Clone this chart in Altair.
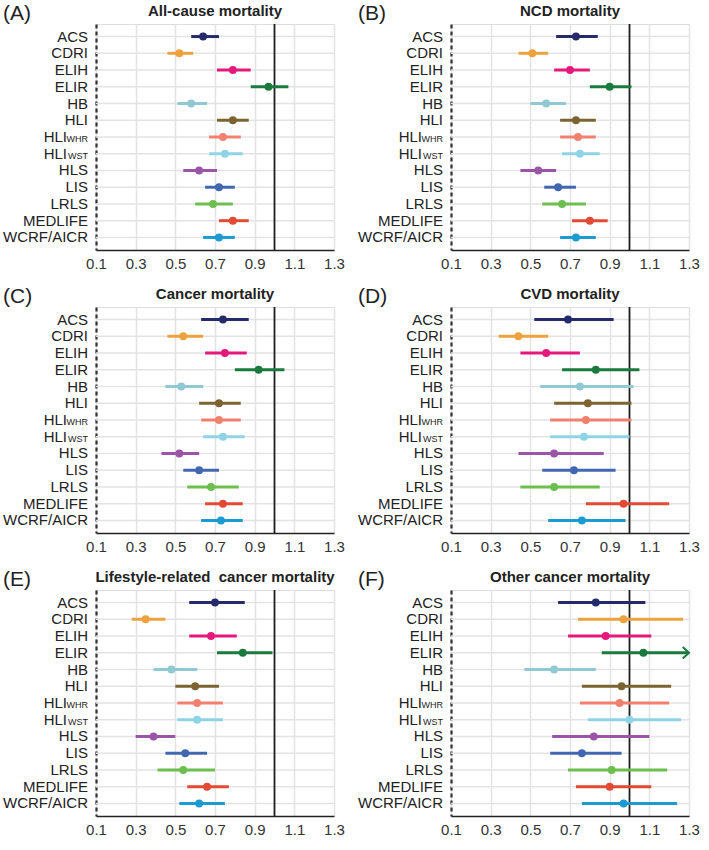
import altair as alt
import pandas as pd

FONT = "Liberation Sans"

names = ["ACS", "CDRI", "ELIH", "ELIR", "HB", "HLI", "HLIWHR", "HLIWST",
         "HLS", "LIS", "LRLS", "MEDLIFE", "WCRF/AICR"]
main_labels = ["ACS", "CDRI", "ELIH", "ELIR", "HB", "HLI", "HLI", "HLI",
               "HLS", "LIS", "LRLS", "MEDLIFE", "WCRF/AICR"]
sub_labels = ["", "", "", "", "", "", "WHR", "WST", "", "", "", "", ""]
colors = ["#252a6b", "#eea23e", "#e5197c", "#1a7a3e", "#90c8d4", "#7b6432",
          "#f2806f", "#8fd4e6", "#9a55a6", "#4267b0", "#6cbf4f", "#e24a33",
          "#1b9bd1"]

letters = ["(A)", "(B)", "(C)", "(D)", "(E)", "(F)"]
titles = ["All-cause mortality", "NCD mortality", "Cancer mortality",
          "CVD mortality", "Lifestyle-related\u00a0 cancer mortality",
          "Other cancer mortality"]
x_ticks = [0.1, 0.3, 0.5, 0.7, 0.9, 1.1, 1.3]

# (A) All-cause mortality
a_est = [0.64, 0.52, 0.79, 0.97, 0.58, 0.79, 0.74, 0.75, 0.62, 0.72, 0.69, 0.79, 0.72]
a_lo = [0.58, 0.46, 0.71, 0.88, 0.51, 0.71, 0.67, 0.67, 0.54, 0.65, 0.60, 0.72, 0.64]
a_hi = [0.72, 0.59, 0.88, 1.07, 0.66, 0.87, 0.83, 0.84, 0.71, 0.80, 0.79, 0.87, 0.80]
# (B) NCD mortality
b_est = [0.73, 0.51, 0.70, 0.90, 0.58, 0.73, 0.74, 0.75, 0.54, 0.64, 0.66, 0.80, 0.73]
b_lo = [0.63, 0.44, 0.62, 0.80, 0.50, 0.65, 0.65, 0.66, 0.45, 0.57, 0.56, 0.71, 0.65]
b_hi = [0.84, 0.59, 0.80, 1.01, 0.68, 0.83, 0.83, 0.85, 0.63, 0.73, 0.78, 0.89, 0.83]
# (C) Cancer mortality
c_est = [0.74, 0.54, 0.75, 0.92, 0.53, 0.72, 0.72, 0.74, 0.52, 0.62, 0.68, 0.74, 0.73]
c_lo = [0.63, 0.46, 0.65, 0.80, 0.45, 0.62, 0.63, 0.64, 0.43, 0.54, 0.56, 0.65, 0.63]
c_hi = [0.87, 0.64, 0.86, 1.05, 0.64, 0.83, 0.83, 0.85, 0.62, 0.72, 0.82, 0.84, 0.84]
# (D) CVD mortality
d_est = [0.69, 0.44, 0.58, 0.83, 0.75, 0.79, 0.78, 0.77, 0.62, 0.72, 0.62, 0.97, 0.76]
d_lo = [0.52, 0.34, 0.45, 0.66, 0.55, 0.62, 0.60, 0.60, 0.44, 0.56, 0.45, 0.78, 0.59]
d_hi = [0.92, 0.59, 0.75, 1.05, 1.02, 1.01, 1.01, 1.00, 0.87, 0.93, 0.85, 1.20, 0.98]
# (E) Lifestyle-related cancer mortality
e_est = [0.70, 0.35, 0.68, 0.84, 0.48, 0.60, 0.61, 0.61, 0.39, 0.55, 0.54, 0.66, 0.62]
e_lo = [0.57, 0.28, 0.57, 0.71, 0.39, 0.50, 0.51, 0.51, 0.30, 0.45, 0.41, 0.56, 0.52]
e_hi = [0.85, 0.45, 0.81, 0.99, 0.61, 0.72, 0.74, 0.74, 0.50, 0.66, 0.70, 0.77, 0.75]
# (F) Other cancer mortality (ELIR upper limit runs past the axis -> arrow)
f_est = [0.83, 0.97, 0.88, 1.07, 0.62, 0.96, 0.95, 1.00, 0.82, 0.76, 0.91, 0.90, 0.97]
f_lo = [0.64, 0.74, 0.69, 0.86, 0.47, 0.76, 0.75, 0.79, 0.61, 0.60, 0.69, 0.73, 0.76]
f_hi = [1.08, 1.27, 1.11, 1.30, 0.83, 1.21, 1.20, 1.26, 1.10, 0.96, 1.19, 1.11, 1.24]
f_arrow = [False, False, False, True, False, False, False, False, False, False, False, False, False]
no_arrow = [False] * 13

W = 238
H = 226
SUBW = 21


def make_panel(letter, title, est, lo, hi, arrow):
    df = pd.DataFrame({"label": names, "main": main_labels, "sub": sub_labels,
                       "est": est, "lo": lo, "hi": hi, "arrow": arrow})
    xscale = alt.Scale(domain=[0.1, 1.3], nice=False, zero=False)
    xaxis = alt.Axis(values=x_ticks, format=".1f", title=None, grid=True,
                     gridColor="#e3e3e3", gridWidth=1.5, ticks=False,
                     labelPadding=6, labelFontSize=15, labelColor="#333333",
                     labelFont=FONT, domainColor="#222222", domainWidth=1.5,
                     labelFlush=False)
    yscale = alt.Scale(domain=names, padding=0.5)
    yaxis = alt.Axis(title=None, labels=False, ticks=False, grid=False,
                     domainDash=[4, 3], domainWidth=2.2, domainColor="#333333")
    Y = alt.Y("label:N", scale=yscale, axis=yaxis)
    C = alt.Color("label:N", scale=alt.Scale(domain=names, range=colors), legend=None)
    base = alt.Chart(df)

    hgrid = base.mark_rule(color="#e3e3e3", strokeWidth=1.5).encode(
        y=Y, x=alt.value(0), x2=alt.value(W))
    vline = alt.Chart(pd.DataFrame({"v": [1.0]})).mark_rule(
        color="#1e1e1e", strokeWidth=1.8).encode(
        x=alt.X("v:Q", scale=xscale, axis=xaxis))
    bars = base.mark_rule(strokeWidth=3).encode(
        y=Y, x=alt.X("lo:Q", scale=xscale, axis=xaxis), x2="hi:Q", color=C)
    pts = base.mark_circle(size=62, opacity=1).encode(
        y=Y, x=alt.X("est:Q", scale=xscale, axis=xaxis), color=C)
    arr = base.transform_filter("datum.arrow").mark_point(
        shape="M -1.1 -1 L 0 0 L -1.1 1", filled=False, strokeWidth=2,
        size=130, opacity=1).encode(
        y=Y, x=alt.X("hi:Q", scale=xscale, axis=xaxis), color=C)
    lab_plain = base.transform_filter("datum.sub == ''").mark_text(
        align="right", baseline="alphabetic", dy=5, fontSize=15, font=FONT,
        color="#222222").encode(y=Y, x=alt.value(-8), text="main:N")
    lab_main = base.transform_filter("datum.sub != ''").mark_text(
        align="right", baseline="alphabetic", dy=5, fontSize=15, font=FONT,
        color="#222222").encode(y=Y, x=alt.value(-8 - SUBW), text="main:N")
    lab_sub = base.transform_filter("datum.sub != ''").mark_text(
        align="right", baseline="alphabetic", dy=5, fontSize=9, font=FONT,
        color="#222222").encode(y=Y, x=alt.value(-8), text="sub:N")
    let = alt.Chart(pd.DataFrame({"t": [letter]})).mark_text(
        align="left", baseline="alphabetic", fontSize=21, font=FONT,
        color="#222222").encode(x=alt.value(-93), y=alt.value(-4), text="t:N")
    ttl = alt.Chart(pd.DataFrame({"t": [title]})).mark_text(
        align="center", baseline="alphabetic", fontSize=15, fontWeight="bold",
        font=FONT, color="#222222").encode(x=alt.value(W / 2), y=alt.value(-8), text="t:N")
    return alt.layer(hgrid, vline, bars, pts, arr, lab_plain, lab_main, lab_sub,
                     let, ttl).properties(width=W, height=H)


pA = make_panel(letters[0], titles[0], a_est, a_lo, a_hi, no_arrow)
pB = make_panel(letters[1], titles[1], b_est, b_lo, b_hi, no_arrow)
pC = make_panel(letters[2], titles[2], c_est, c_lo, c_hi, no_arrow)
pD = make_panel(letters[3], titles[3], d_est, d_lo, d_hi, no_arrow)
pE = make_panel(letters[4], titles[4], e_est, e_lo, e_hi, no_arrow)
pF = make_panel(letters[5], titles[5], f_est, f_lo, f_hi, f_arrow)

chart = alt.vconcat(
    alt.hconcat(pA, pB, spacing=12),
    alt.hconcat(pC, pD, spacing=12),
    alt.hconcat(pE, pF, spacing=12),
    spacing=13,
).properties(
    padding={"left": 2, "top": 2, "right": 0, "bottom": 0},
    background="white",
).configure_view(stroke=None).configure(font=FONT)

chart.save("out.html", embed_options={"renderer": "svg", "actions": False})
